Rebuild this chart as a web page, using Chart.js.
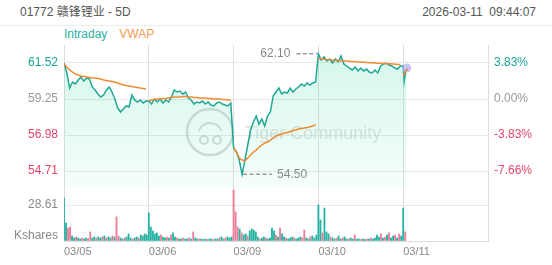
<!DOCTYPE html>
<html><head><meta charset="utf-8">
<script src="https://cdn.jsdelivr.net/npm/chart.js@4.4.1/dist/chart.umd.min.js"></script>
<style>
html,body{margin:0;padding:0;background:#fff;width:552px;height:265px;overflow:hidden;font-family:"Liberation Sans",Arial,"Noto Sans CJK SC",sans-serif;}
#wrap{position:relative;width:552px;height:265px;}
canvas{position:absolute;left:0;top:0;}
#title{position:absolute;left:20px;top:4px;font-size:12px;line-height:16px;color:#555;}
#time{position:absolute;right:16px;top:4px;font-size:12px;line-height:16px;color:#555;white-space:pre;}
#sep{position:absolute;left:0;top:25px;width:552px;height:1px;background:#eeeeee;}
#legend{position:absolute;left:64px;top:27px;font-size:12px;line-height:15px;}
#legend span{margin-right:12px;}
#unit{position:absolute;right:494px;top:228px;font-size:12px;line-height:14px;color:#888;}
</style></head>
<body><div id="wrap">
<div id="title">01772 赣锋锂业 - 5D</div>
<div id="time">2026-03-11  09:44:07</div>
<div id="sep"></div>
<div id="legend"><span style="color:#2ab0a0">Intraday</span><span style="color:#f39a55">VWAP</span></div>
<canvas id="price" width="552" height="265"></canvas>
<canvas id="vol" width="552" height="265"></canvas>
<div id="unit">Kshares</div>
</div>
<script>
// ---- data ----
const DATE_LABELS = ['03/05','03/06','03/09','03/10','03/11'];
const PREV_CLOSE = 59.25;
const PRICE_TICKS = [61.52, 59.25, 56.98, 54.71];
const PCT_TICKS = [3.83, 0, -3.83, -7.66];
const VOL_TICKS = [0, 28.61];
const DAY_MIN = 330;          // trading minutes per day
const PRICE_STEP = 11;        // minutes between price samples
const VOL_STEP = 330/42;      // minutes between volume samples
const D5_MIN = [0, 4, 8, 12, 14];

const PRICE_D1 = [61.52,60.90,59.94,60.32,60.20,60.45,60.64,60.38,60.57,60.51,60.01,59.82,59.57,59.38,59.50,59.82,60.01,59.69,59.25,58.68,58.43,58.62,58.81,58.75,59.50,59.19,59.06,59.19,59.00,59.12];
const PRICE_D2 = [59.12,58.93,59.25,59.06,59.25,59.00,59.19,59.06,59.38,59.82,59.69,59.75,59.57,59.69,59.31,59.19,58.93,59.06,59.00,59.12,58.93,59.06,58.87,58.81,59.00,59.06,58.93,58.87,58.81,59.00];
const PRICE_D3 = [56.16,55.91,55.40,54.50,55.40,56.35,57.30,57.80,58.18,57.67,57.99,57.55,58.18,58.43,59.44,59.69,59.94,59.57,59.69,59.63,59.94,59.69,59.88,60.01,60.20,60.07,60.26,60.13,60.26,60.32];
const PRICE_D4 = [62.10,61.71,61.90,61.65,61.77,61.52,61.77,61.58,61.96,61.46,61.33,61.20,61.08,61.27,61.02,61.20,61.02,61.14,60.95,60.89,61.08,60.89,61.33,61.46,61.52,61.39,61.33,61.20,61.14,61.33];
const PRICE_D5 = [61.33,60.38,60.83,61.08,61.20];

const VWAP_D1 = [61.45,61.25,61.08,60.95,60.83,60.76,60.70,60.67,60.64,60.61,60.57,60.57,60.54,60.51,60.45,60.42,60.38,60.35,60.32,60.26,60.20,60.13,60.10,60.07,60.04,60.01,59.98,59.94,59.91,59.88];
const VWAP_D2 = [59.12,59.19,59.22,59.25,59.25,59.28,59.28,59.31,59.34,59.38,59.38,59.38,59.41,59.41,59.38,59.38,59.34,59.34,59.31,59.31,59.31,59.28,59.28,59.25,59.25,59.25,59.22,59.22,59.19,59.19];
const VWAP_D3 = [56.16,55.91,55.53,55.40,55.36,55.53,55.72,55.91,56.03,56.22,56.35,56.47,56.54,56.66,56.79,56.92,56.98,57.04,57.11,57.14,57.20,57.26,57.30,57.36,57.39,57.42,57.45,57.50,57.55,57.61];
const VWAP_D4 = [61.77,61.80,61.76,61.74,61.73,61.71,61.70,61.68,61.67,61.66,61.64,61.63,61.62,61.60,61.59,61.58,61.57,61.55,61.54,61.53,61.52,61.51,61.50,61.49,61.48,61.47,61.46,61.45,61.43,61.42];
const VWAP_D5 = [60.70,60.83,60.95,61.08,61.14];

const VOL_D1 = [34.2,14.3,10.3,11.1,4.0,2.4,3.2,2.4,1.6,2.4,1.6,2.4,2.0,7.2,2.4,3.2,2.4,3.2,2.4,3.2,4.0,2.4,3.2,2.4,4.0,3.2,19.1,4.0,2.4,1.6,2.4,3.2,5.6,2.4,1.6,2.4,3.2,2.4,4.8,4.0,5.6,4.8];
const UP_D1  = [1,1,0,0,1,1,0,1,1,0,1,1,0,0,1,1,0,1,1,0,1,0,1,1,0,1,0,0,1,1,0,1,1,1,0,1,1,0,1,1,1,1];
const VOL_D2 = [22.3,11.1,8.0,5.6,6.4,4.0,4.8,3.2,2.4,3.2,2.4,4.8,6.4,3.2,2.4,1.6,1.6,2.4,1.6,1.6,2.4,1.6,7.2,2.4,1.6,1.6,1.6,1.2,1.6,1.2,1.6,1.6,1.2,1.6,1.6,2.4,3.2,1.6,2.4,3.2,2.4,3.2];
const UP_D2  = [1,1,1,1,1,1,0,1,1,0,1,0,1,1,0,1,1,0,1,1,0,1,0,1,1,0,1,1,1,0,1,1,0,1,1,0,1,1,0,1,1,1];
const VOL_D3 = [40.5,23.1,11.1,9.5,6.4,4.8,5.6,4.0,8.0,9.5,8.7,7.2,3.2,1.6,2.4,3.2,2.4,1.6,2.4,10.3,8.0,4.8,3.2,10.3,5.6,3.2,2.4,1.6,2.4,3.2,2.4,1.6,2.4,3.2,2.4,8.7,2.4,1.6,3.2,4.0,2.4,4.8];
const UP_D3  = [0,0,0,1,0,1,1,0,1,1,1,1,1,0,1,1,0,1,1,1,1,0,1,0,1,1,0,1,1,1,0,1,1,1,0,0,1,1,0,1,1,1];
const VOL_D4 = [28.6,16.7,6.4,26.2,7.2,5.6,3.2,2.4,1.6,2.4,4.0,1.6,2.4,3.2,1.6,1.6,2.4,1.6,4.8,1.6,1.6,1.2,1.6,1.2,1.6,1.6,2.4,1.6,2.4,4.8,3.2,5.6,2.4,3.2,4.8,6.4,2.4,4.0,4.8,2.4,5.6,4.0];
const UP_D4  = [1,1,0,1,1,1,0,1,1,0,1,1,0,1,1,0,1,1,0,1,1,0,1,1,0,1,0,1,1,1,1,0,1,0,1,0,1,1,0,1,0,1];
const VOL_D5 = [26.2,7.2];
const UP_D5  = [1,0];

// ---- build ----
const TEAL = '#1fa797', ORANGE = '#f08a30', RED = '#e8456b', GRAY = '#999';
const FONT = '"Liberation Sans", Arial, sans-serif';
const priceDays = [PRICE_D1, PRICE_D2, PRICE_D3, PRICE_D4];
const vwapDays = [VWAP_D1, VWAP_D2, VWAP_D3, VWAP_D4];
const pricePts = [], vwapPts = [], volPts = [];
priceDays.forEach((arr,d)=>arr.forEach((v,i)=>pricePts.push({x:d*DAY_MIN+i*PRICE_STEP,y:v})));
PRICE_D5.forEach((v,i)=>pricePts.push({x:4*DAY_MIN+D5_MIN[i],y:v}));
vwapDays.forEach((arr,d)=>{arr.forEach((v,i)=>vwapPts.push({x:d*DAY_MIN+i*PRICE_STEP,y:v})); vwapPts.push({x:d*DAY_MIN+DAY_MIN-1,y:null});});
VWAP_D5.forEach((v,i)=>vwapPts.push({x:4*DAY_MIN+D5_MIN[i],y:v}));
[[VOL_D1,UP_D1],[VOL_D2,UP_D2],[VOL_D3,UP_D3],[VOL_D4,UP_D4],[VOL_D5,UP_D5]].forEach(([vs,ups],d)=>
  vs.forEach((v,i)=>volPts.push({x:d*DAY_MIN+i*VOL_STEP,y:v,up:ups[i]})));

const tickStep = PRICE_TICKS[0]-PRICE_TICKS[1];
const PMAX = PRICE_TICKS[0] + tickStep/2;
const PMIN = PRICE_TICKS[PRICE_TICKS.length-1] - tickStep/2;
const pct = p => (p/PREV_CLOSE-1)*100;
const colorFor = v => Math.abs(v) < 1e-6 ? GRAY : (v>0 ? '#1aa59a' : RED);
const VOL_MAX = VOL_TICKS[1]*52/36;
const dayTicks = s => { s.ticks = []; for(let i=0;i<=5;i++) s.ticks.push({value:i*DAY_MIN}); };

Chart.defaults.font.family = FONT;
Chart.defaults.animation = false;

const annot = {
  id:'annot',
  beforeDatasetsDraw(chart){
    const c = chart.ctx, a = chart.chartArea;
    c.save();
    c.strokeStyle = 'rgba(190,190,190,0.6)'; c.lineWidth = 2.5;
    c.beginPath(); c.arc(a.left+146, a.top+87, 23, 0, Math.PI*2); c.stroke();
    c.lineWidth = 2;
    c.beginPath(); c.arc(a.left+146, a.top+90, 12, Math.PI*1.1, Math.PI*1.9); c.stroke();
    c.beginPath(); c.arc(a.left+140, a.top+95, 4, 0, Math.PI*2); c.stroke();
    c.beginPath(); c.arc(a.left+153, a.top+95, 4, 0, Math.PI*2); c.stroke();
    c.fillStyle = 'rgba(185,185,185,0.45)';
    c.font = '18px ' + FONT; c.textBaseline = 'middle';
    c.fillText('Tiger Community', a.left+181, a.top+89);
    c.restore();
  },
  afterDatasetsDraw(chart){
    const c = chart.ctx, xs = chart.scales.x, ys = chart.scales.y;
    let mx = pricePts[0], mn = pricePts[0];
    pricePts.forEach(p=>{ if(p.y>mx.y) mx=p; if(p.y<mn.y) mn=p; });
    c.save();
    c.strokeStyle = '#999'; c.lineWidth = 1.5; c.setLineDash([4,2.5]);
    c.fillStyle = '#888'; c.font = '12px ' + FONT; c.textBaseline = 'middle';
    let px = xs.getPixelForValue(mx.x), py = ys.getPixelForValue(mx.y);
    c.beginPath(); c.moveTo(px-22, py); c.lineTo(px-1, py); c.stroke();
    c.textAlign = 'right'; c.fillText(mx.y.toFixed(2), px-28, py);
    px = xs.getPixelForValue(mn.x); py = ys.getPixelForValue(mn.y);
    c.beginPath(); c.moveTo(px+1, py); c.lineTo(px+30, py); c.stroke();
    c.textAlign = 'left'; c.fillText(mn.y.toFixed(2), px+35, py);
    c.restore();
  }
};

new Chart(document.getElementById('price'), {
  type:'line',
  data:{datasets:[
    {label:'VWAP', data:vwapPts, borderColor:ORANGE, borderWidth:1.5, pointRadius:0, spanGaps:false, fill:false, tension:0, order:1},
    {label:'Intraday', data:pricePts, borderColor:TEAL, borderWidth:1.5, tension:0, order:2,
     pointRadius: ctx => ctx.dataIndex === pricePts.length-1 ? 4.5 : 0,
     pointBackgroundColor:'rgba(185,175,240,0.75)', pointBorderWidth:0,
     fill:'start',
     backgroundColor: ctx => { const a = ctx.chart.chartArea; if(!a) return 'rgba(0,0,0,0)';
       const g = ctx.chart.ctx.createLinearGradient(0,a.top,0,a.bottom);
       g.addColorStop(0,'rgba(110,228,185,0.30)'); g.addColorStop(1,'rgba(110,228,185,0.06)'); return g; }}
  ]},
  options:{
    responsive:false, maintainAspectRatio:false, parsing:true,
    layout:{padding:{top:45,bottom:76,left:0,right:0}},
    plugins:{legend:{display:false}, tooltip:{enabled:false}},
    scales:{
      x:{type:'linear', min:0, max:5*DAY_MIN, afterBuildTicks:dayTicks,
         ticks:{display:false}, grid:{color:'#dddddd', drawTicks:false}, border:{display:false},
         afterFit:s=>{s.height=0;}},
      y:{position:'left', min:PMIN, max:PMAX, afterBuildTicks:s=>{s.ticks=PRICE_TICKS.map(v=>({value:v}));},
         ticks:{callback:v=>v.toFixed(2), color:ctx=>colorFor(ctx.tick.value-PREV_CLOSE), padding:6, font:{size:12}},
         grid:{color:'#e8e8e8', drawTicks:false}, border:{display:false}, afterFit:s=>{s.width=64;}},
      y2:{position:'right', min:pct(PMIN), max:pct(PMAX), afterBuildTicks:s=>{s.ticks=PCT_TICKS.map(v=>({value:v}));},
         ticks:{callback:v=>v.toFixed(2)+'%', color:ctx=>colorFor(ctx.tick.value), padding:6, font:{size:12}},
         grid:{display:false, drawTicks:false}, border:{display:false}, afterFit:s=>{s.width=64;}}
    }
  },
  plugins:[annot]
});

new Chart(document.getElementById('vol'), {
  type:'bar',
  data:{datasets:[{data:volPts, barThickness:1.2,
    backgroundColor: ctx => (ctx.raw && ctx.raw.up) ? '#26b3a1' : '#f07b98'}]},
  options:{
    responsive:false, maintainAspectRatio:false,
    layout:{padding:{top:189,bottom:0,left:0,right:64}},
    plugins:{legend:{display:false}, tooltip:{enabled:false}},
    scales:{
      x:{type:'linear', min:0, max:5*DAY_MIN, afterBuildTicks:dayTicks, offset:false,
         ticks:{callback:(v,i)=>DATE_LABELS[i]||'', align:'start', color:'#888', font:{size:11}, padding:4, maxRotation:0, autoSkip:false},
         grid:{color:'#dddddd', drawTicks:false, offset:false}, border:{display:true, color:'#dddddd'},
         afterFit:s=>{s.height=24;}},
      y:{position:'left', min:0, max:VOL_MAX, afterBuildTicks:s=>{s.ticks=VOL_TICKS.map(v=>({value:v}));},
         ticks:{callback:v=>v>0?v.toFixed(2):'', color:'#888', padding:6, font:{size:12}},
         grid:{color:ctx=>ctx.tick && ctx.tick.value>0 ? '#e8e8e8' : 'rgba(0,0,0,0)', drawTicks:false}, border:{display:false},
         afterFit:s=>{s.width=64;}}
    }
  }
});
</script>
</body></html>
